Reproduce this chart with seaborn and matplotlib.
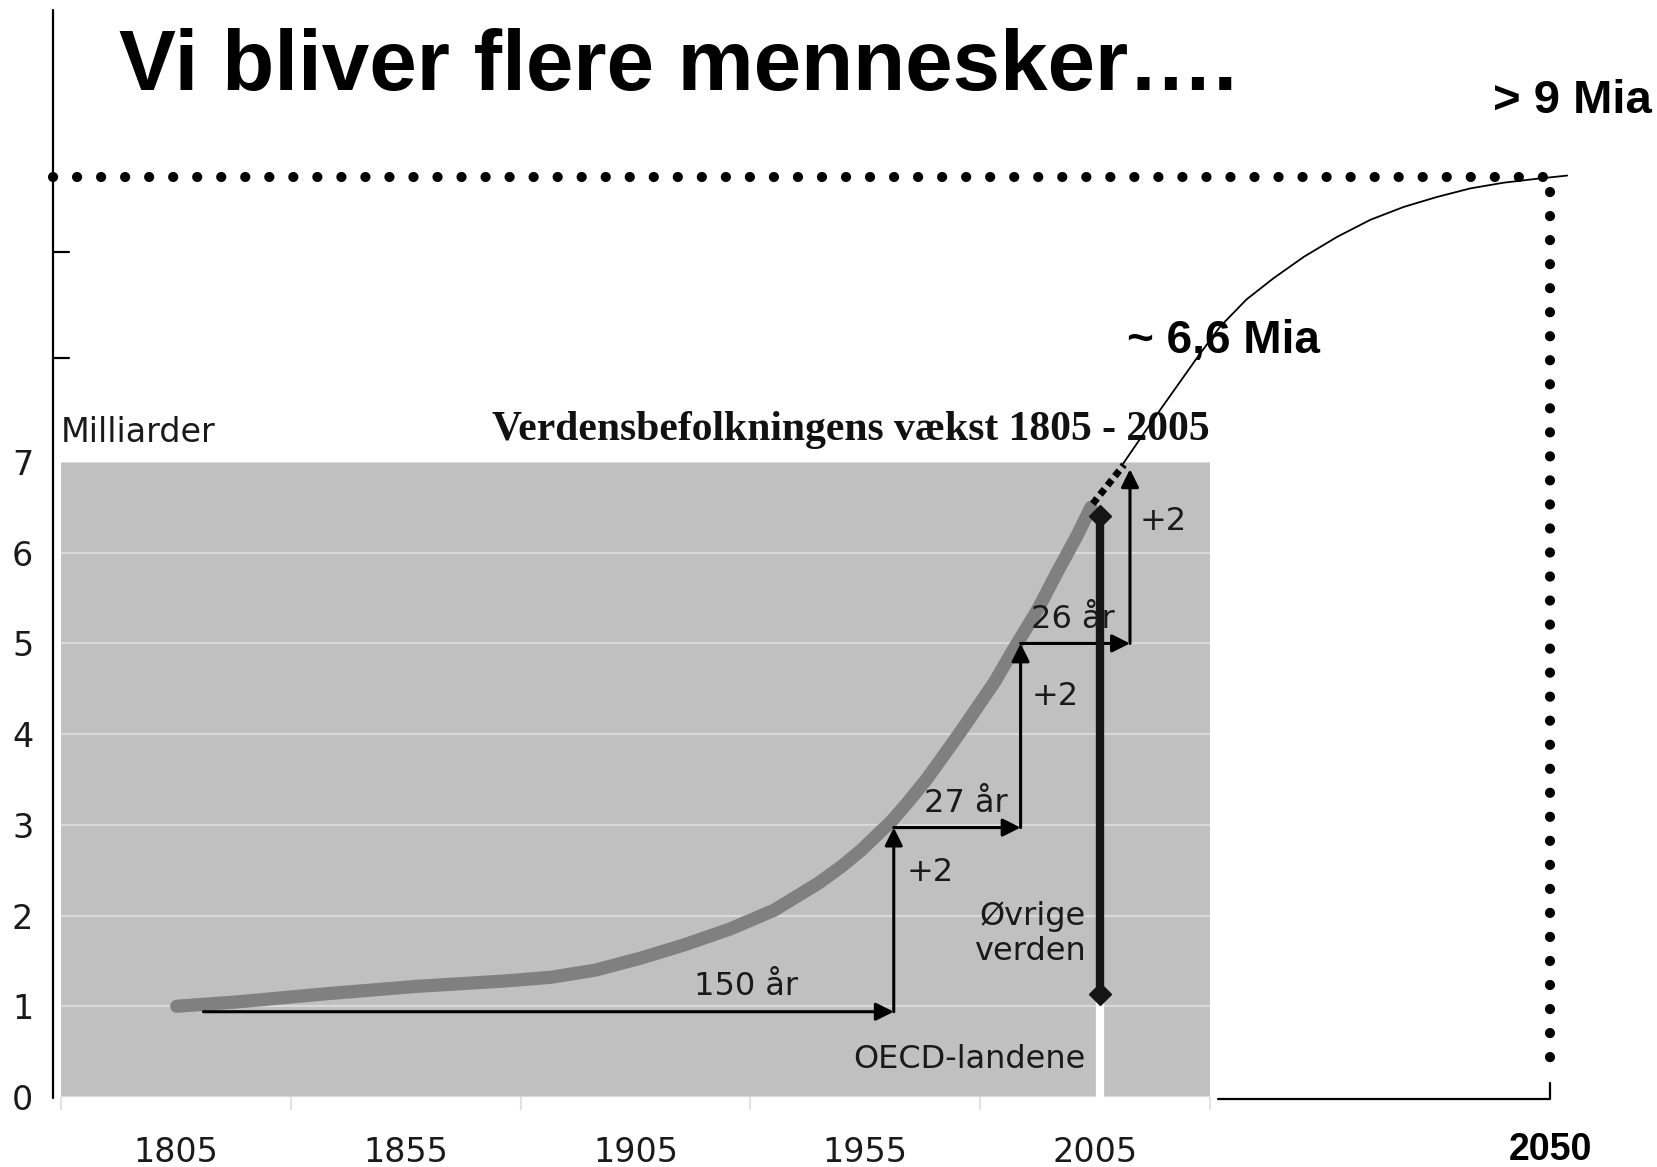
import pandas as pd
import seaborn as sns
import matplotlib.pyplot as plt

# Befolkningskurve 1805-2005 (milliarder)
aar = [1805.2, 1818.8, 1838.2, 1857.6, 1877.0, 1886.7, 1896.4, 1906.1, 1915.8, 1925.5,
       1935.2, 1944.9, 1949.8, 1954.1, 1960.7, 1964.3, 1968.3, 1973.7, 1977.7, 1983.2,
       1987.1, 1992.6, 1996.5, 2001.1, 2004.1]
befolkning = [1.00, 1.05, 1.14, 1.22, 1.28, 1.32, 1.40, 1.53, 1.68, 1.85,
              2.06, 2.36, 2.54, 2.72, 3.04, 3.25, 3.50, 3.88, 4.17, 4.58,
              4.92, 5.38, 5.76, 6.19, 6.50]

# Forlængelse (prikket) og fremskrivning til 2050
prik_aar = [2004.5, 2011.3]
prik_vaerdi = [6.54, 6.97]
frem_aar = [2007.7, 2010.7, 2013.0, 2015.1, 2017.3, 2019.9, 2022.6, 2025.6, 2028.9,
            2032.2, 2035.5, 2038.8, 2042.1, 2045.4, 2049.0, 2051.7]
frem_vaerdi = [6.99, 7.30, 7.53, 7.74, 7.95, 8.14, 8.29, 8.44, 8.58,
               8.70, 8.79, 8.86, 8.92, 8.96, 8.99, 9.01]

# Trappe-pile: hjørner (år) og niveauer (mia.)
trin_aar = [1811, 1961.2, 1988.8, 2012.6]
trin_niveau = [0.94, 2.97, 5.00, 6.92]
trin_tekst = ["150 år", "27 år", "26 år"]
trin_tekst_pos = [(1929, 1.22), (1977, 3.23), (2000.2, 5.26)]
plus_tekst_pos = [(1964, 2.47), (1991.3, 4.41), (2014.8, 6.34)]

# Skillelinje OECD / øvrige verden
skille_aar = 2006
skille_fra, skille_til = 1.13, 6.41

kategorier = [1805, 1855, 1905, 1955, 2005]
kat_graenser = [1780, 1830, 1880, 1930, 1980, 2030]
y_ticks = [0, 1, 2, 3, 4, 5, 6, 7]

df = pd.DataFrame({"aar": aar, "mia": befolkning})
df_frem = pd.DataFrame({"aar": frem_aar, "mia": frem_vaerdi})

sns.set_theme(style="white")
plt.rcParams["font.family"] = ["DejaVu Sans"]
plt.rcParams["text.color"] = "black"

fig = plt.figure(figsize=(16.57, 11.67), dpi=100)

# indre Excel-diagram
ax = fig.add_axes([0.0368, 0.060, 0.6934, 0.5441], zorder=1)
ax.set_facecolor("#c0c0c0")
ax.set_xlim(1780, 2030)
ax.set_ylim(0, 7)
for s in ax.spines.values():
    s.set_visible(False)
ax.set_yticks(y_ticks)
ax.set_yticklabels([str(v) for v in y_ticks], fontsize=24, color="#1a1a1a")
ax.yaxis.grid(True, color="#d9d9d9", lw=1.5)
ax.set_axisbelow(True)
ax.tick_params(axis="y", length=0, pad=20)
ax.set_xticks(kat_graenser)
ax.set_xticklabels([])
ax.tick_params(axis="x", which="major", length=9, width=1.5, color="#e2e2e2", direction="out")
ax.set_xticks(kategorier, minor=True)
ax.set_xticklabels([str(k) for k in kategorier], minor=True, fontsize=24, color="#1a1a1a")
ax.tick_params(axis="x", which="minor", length=0, pad=28)
ax.xaxis.set_tick_params(bottom=True, which="both")

sns.lineplot(data=df, x="aar", y="mia", ax=ax, color="#808080", linewidth=9.5,
             solid_capstyle="round", solid_joinstyle="round", zorder=3)
ax.plot(prik_aar, prik_vaerdi, color="black", lw=5, linestyle=(0, (1, 0.7)),
        dash_capstyle="butt", zorder=4, clip_on=False)
ax.set_xlabel("")
ax.set_ylabel("")

pil = dict(arrowstyle="-|>", color="black", lw=2.2, mutation_scale=27, shrinkA=0, shrinkB=0)
for i in range(3):
    ax.annotate("", xy=(trin_aar[i + 1], trin_niveau[i]), xytext=(trin_aar[i], trin_niveau[i]),
                arrowprops=pil, zorder=5)
    ax.annotate("", xy=(trin_aar[i + 1], trin_niveau[i + 1]), xytext=(trin_aar[i + 1], trin_niveau[i]),
                arrowprops=pil, zorder=5)
for t, (x, y) in zip(trin_tekst, trin_tekst_pos):
    ax.text(x, y, t, ha="center", va="center", fontsize=23, color="#1a1a1a", zorder=6)
for x, y in plus_tekst_pos:
    ax.text(x, y, "+2", ha="left", va="center", fontsize=23, color="#1a1a1a", zorder=6)

ax.plot([skille_aar, skille_aar], [0, skille_fra], color="white", lw=6, zorder=4,
        solid_capstyle="butt", clip_on=False)
ax.plot([skille_aar, skille_aar], [skille_fra, skille_til], color="#151515", lw=6, zorder=5,
        marker="D", markersize=11, markevery=[0, 1])
ax.text(2003, 1.80, "Øvrige\nverden", ha="right", va="center", fontsize=23,
        color="#1a1a1a", linespacing=1.15, zorder=6)
ax.text(2003, 0.41, "OECD-landene", ha="right", va="center", fontsize=23, color="#1a1a1a", zorder=6)

ax.text(1780, 7.22, "Milliarder", ha="left", va="baseline", fontsize=24, color="#1a1a1a")
ax.text(2030, 7.24, "Verdensbefolkningens vækst 1805 - 2005", ha="right", va="baseline",
        fontsize=30, fontweight="bold", family=["Liberation Serif", "DejaVu Serif"], color="#111111")

# ydre ramme med fremskrivning til 2050
ax2 = fig.add_axes([0, 0, 1, 1], zorder=3)
ax2.patch.set_alpha(0)
ax2.axis("off")
ax2.set_xlim(1896.37, 2060.6)
ax2.set_ylim(2.053, 10.242)

sns.lineplot(data=df_frem, x="aar", y="mia", ax=ax2, color="black", linewidth=1.3)
ax2.plot([1901.6, 1901.6], [10.17, 2.537], color="black", lw=1.6)
for yt in [8.474, 7.730]:
    ax2.plot([1901.6, 1903.2], [yt, yt], color="black", lw=1.6)
prik = dict(color="black", lw=7.3, linestyle=(0, (0.01, 2.36)), dash_capstyle="round")
ax2.plot([1901.6, 2049.8], [9.0, 9.0], **prik)
ax2.plot([2050, 2050], [8.897, 2.80], **prik)
ax2.plot([2017.1, 2050, 2050], [2.530, 2.530, 2.64], color="black", lw=1.6)

fig.text(0.0718, 0.9229, "Vi bliver flere mennesker….", ha="left", va="baseline",
         fontsize=61.5, fontweight="bold", color="black", family=["Liberation Sans", "DejaVu Sans"])
fig.text(0.9968, 0.9034, "> 9 Mia", ha="right", va="baseline", color="black",
         fontsize=34, fontweight="bold", family=["Liberation Sans", "DejaVu Sans"])
fig.text(0.680, 0.6973, "~ 6,6 Mia", ha="left", va="baseline", color="black",
         fontsize=33, fontweight="bold", family=["Liberation Sans", "DejaVu Sans"])
fig.text(0.9354, 0.006, "2050", ha="center", va="baseline", color="black",
         fontsize=27, fontweight="bold", family=["Liberation Sans", "DejaVu Sans"])

fig.savefig("out.png", dpi=100)
